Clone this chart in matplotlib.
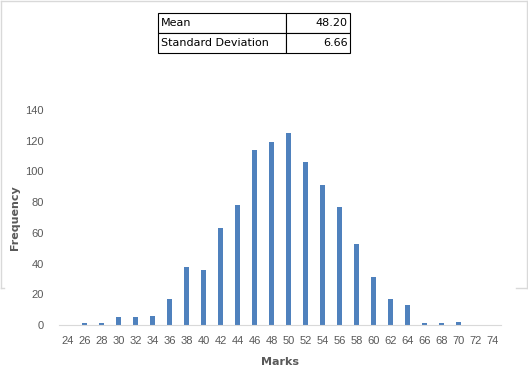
import matplotlib.pyplot as plt
from matplotlib.lines import Line2D

marks = [24, 26, 28, 30, 32, 34, 36, 38, 40, 42, 44, 46, 48, 50,
         52, 54, 56, 58, 60, 62, 64, 66, 68, 70, 72, 74]
freq = [0, 1, 1, 5, 5, 6, 17, 38, 36, 63, 78, 114, 119, 125,
        106, 91, 77, 53, 31, 17, 13, 1, 1, 2, 0, 0]
stat_names = ["Mean", "Standard Deviation"]
stat_values = ["48.20", "6.66"]

W, H = 528, 375
fig = plt.figure(figsize=(W / 100, H / 100), dpi=100)

# light grey frame left over from the sheet
grey = "#d9d9d9"
def px(x, y):
    return x / W, 1 - y / H
for (x0, y0), (x1, y1) in [((0.5, 0.5), (527.5, 0.5)), ((0.5, 0.5), (0.5, 288)),
                           ((0.5, 288), (4, 288)), ((527, 0.5), (527, 288)),
                           ((516, 288), (527, 288))]:
    a, b = px(x0, y0)
    c, d = px(x1, y1)
    fig.add_artist(Line2D([a, c], [b, d], color=grey, lw=1))

ax = fig.add_axes([59 / W, 1 - 325 / H, 442 / W, 215 / H])
pos = range(len(marks))
ax.bar(pos, freq, width=0.31, color="#4f81bd")
ax.set_xlim(-0.5, len(marks) - 0.5)
ax.set_ylim(0, 140)
ax.set_yticks(range(0, 141, 20))
ax.set_xticks(list(pos))
ax.set_xticklabels([str(m) for m in marks])
for s in ["top", "right", "left"]:
    ax.spines[s].set_visible(False)
ax.spines["bottom"].set_color(grey)
ax.tick_params(length=0, labelsize=8, colors="#595959", labelfontfamily="Liberation Sans")
ax.tick_params(axis="x", pad=8)
ax.tick_params(axis="y", pad=11)
ax.set_xlabel("Marks", fontsize=8, fontweight="bold", color="#595959", labelpad=8)
ax.set_ylabel("Frequency", fontsize=8, fontweight="bold", color="#595959", labelpad=4)

# stats table
tax = fig.add_axes([158 / W, 1 - 53 / H, 192 / W, 40 / H])
tax.axis("off")
tbl = tax.table(cellText=[[n, v] for n, v in zip(stat_names, stat_values)],
                colWidths=[0.667, 0.333], bbox=[0, 0, 1, 1])
tbl.auto_set_font_size(False)
for (r, c), cell in tbl.get_celld().items():
    cell.set_fontsize(8)
    cell.set_linewidth(0.8)
    cell.set_edgecolor("black")
    cell.get_text().set_ha("left" if c == 0 else "right")
    cell.PAD = 0.02 if c == 0 else 0.04

fig.savefig("out.png", dpi=100)
